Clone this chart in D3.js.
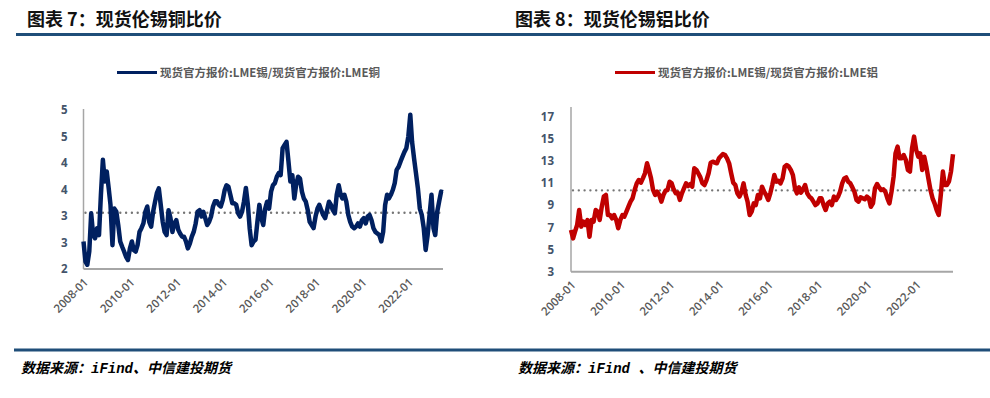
<!DOCTYPE html>
<html>
<head>
<meta charset="utf-8">
<script src="https://cdn.jsdelivr.net/npm/d3@7"></script>
<style>
  body { margin: 0; background: #fff; }
  svg { display: block; }
  .title { font-family: "Noto Sans CJK SC", sans-serif; font-weight: 700; font-size: 18px; fill: #111; }
  .legend { font-family: "Noto Sans CJK SC", sans-serif; font-weight: 700; font-size: 11.5px; fill: #595959; }
  .source { font-family: "Liberation Mono", "Noto Sans CJK SC", monospace; font-style: italic; font-weight: 700; font-size: 14px; fill: #000; }
  .y-axis text { font-family: "Open Sans", sans-serif; font-weight: 700; font-size: 11.5px; fill: #44546A; }
  .x-axis text { font-family: "Open Sans", sans-serif; font-weight: 600; font-size: 11.5px; fill: #595959; }
</style>
</head>
<body>
<div id="chart"></div>
<script>
// monthly series, 2008-01 .. 2023-07
var startMonth = new Date(2008, 0, 1);

var tinCopper = [
  2.52, 2.14, 2.08, 2.33, 3.05, 2.64, 2.58, 2.77, 2.64, 3.40, 4.06, 3.65,
  3.84, 3.52, 3.21, 2.45, 3.14, 3.08, 2.83, 2.52, 2.42, 2.33, 2.23, 2.17,
  2.39, 2.52, 2.36, 2.33, 2.45, 2.70, 2.77, 2.86, 3.08, 3.18, 2.89, 2.80,
  3.08, 3.27, 3.43, 3.52, 3.21, 2.89, 2.70, 2.64, 3.11, 2.96, 2.70, 2.86,
  2.92, 2.74, 2.67, 2.61, 2.61, 2.52, 2.39, 2.48, 2.61, 2.70, 2.86, 3.08,
  3.11, 2.99, 3.08, 2.96, 2.83, 2.89, 2.99, 3.18, 3.28, 3.28, 3.21, 3.18,
  3.30, 3.49, 3.58, 3.55, 3.40, 3.24, 3.24, 3.21, 3.05, 2.99, 3.08, 3.27,
  3.53, 3.21, 2.77, 2.45, 2.52, 2.55, 2.89, 3.21, 2.96, 2.83, 3.14, 3.27,
  3.14, 3.46, 3.58, 3.62, 3.74, 3.81, 3.77, 4.28, 4.34, 4.40, 4.03, 3.65,
  3.77, 3.33, 3.58, 3.74, 3.71, 3.46, 3.33, 3.27, 3.11, 2.89, 2.83, 2.77,
  2.99, 3.14, 3.21, 3.11, 3.02, 2.96, 3.11, 3.27, 3.21, 3.11, 3.05, 3.40,
  3.58, 3.40, 3.33, 3.40, 3.27, 3.02, 2.89, 2.80, 2.77, 2.80, 2.86, 2.80,
  2.92, 2.96, 2.86, 2.99, 3.02, 2.92, 2.77, 2.70, 2.67, 2.64, 2.52, 2.70,
  3.21, 3.40, 3.33, 3.40, 3.49, 3.62, 3.87, 3.93, 4.03, 4.12, 4.21, 4.28,
  4.50, 4.91, 4.40, 4.09, 3.81, 3.52, 3.14, 3.02, 2.77, 2.36, 2.64, 3.02,
  3.40, 2.77, 2.64, 3.08, 3.27, 3.46, 3.45
];

var tinAluminium = [
  6.77, 6.01, 6.61, 7.22, 8.57, 7.07, 7.52, 7.22, 7.67, 6.16, 7.67, 7.52,
  8.57, 8.42, 7.67, 8.87, 9.78, 9.93, 8.12, 8.12, 7.82, 8.12, 7.67, 6.92,
  7.67, 8.12, 7.97, 8.42, 8.87, 9.33, 9.63, 10.38, 10.98, 11.28, 11.04, 11.43,
  11.89, 12.79, 12.19, 11.43, 10.38, 9.93, 10.23, 9.93, 9.33, 9.93, 10.32, 10.38,
  11.13, 10.98, 10.44, 10.08, 10.14, 9.48, 10.08, 10.53, 10.98, 10.74, 10.92, 10.68,
  12.34, 12.19, 11.89, 11.52, 10.98, 10.83, 11.28, 11.89, 12.85, 12.94, 12.85, 12.79,
  13.24, 13.45, 13.63, 13.54, 13.24, 12.79, 11.89, 11.04, 10.83, 10.08, 9.78, 10.20,
  10.98, 9.93, 9.33, 8.12, 8.42, 9.17, 9.02, 9.93, 9.63, 10.68, 10.23, 9.93,
  9.48, 10.08, 10.83, 11.73, 11.13, 11.22, 10.98, 11.43, 12.49, 12.64, 12.49, 12.19,
  11.73, 10.53, 10.08, 10.62, 10.14, 10.44, 10.83, 10.08, 9.78, 9.63, 9.33, 9.02,
  9.17, 9.63, 9.63, 9.02, 8.57, 9.17, 9.33, 9.02, 9.78, 9.48, 9.78, 10.23,
  10.98, 11.43, 11.52, 11.13, 10.98, 10.62, 10.23, 9.48, 9.33, 9.72, 9.63, 9.54,
  9.78, 9.63, 8.87, 9.17, 10.53, 10.92, 10.62, 10.38, 10.44, 10.23, 9.63, 9.17,
  10.23, 11.58, 13.69, 14.30, 13.24, 13.24, 13.54, 13.09, 12.19, 12.04, 14.14, 15.20,
  14.00, 13.39, 13.69, 12.19, 13.39, 12.49, 11.43, 10.38, 9.63, 9.17, 8.57, 8.12,
  9.93, 12.04, 10.83, 10.83, 11.13, 12.04, 13.60
];

// long-run averages (dotted lines)
var tinCopperMean = 3.06;
var tinAluminiumMean = 10.35;

var tinCopperTicks = [2, 2.5, 3, 3.5, 4, 4.5, 5];
var tinAluminiumTicks = [3, 5, 7, 9, 11, 13, 15, 17];

var svg = d3.select("#chart").append("svg")
    .attr("width", 990)
    .attr("height", 398);

// page rules
svg.append("line")
    .attr("x1", 16).attr("x2", 990)
    .attr("y1", 34.5).attr("y2", 34.5)
    .attr("stroke", "#1f4e79").attr("stroke-width", 3);

svg.append("line")
    .attr("x1", 14).attr("x2", 990)
    .attr("y1", 350).attr("y2", 350)
    .attr("stroke", "#1f4e79").attr("stroke-width", 3);

RatioLine = function(_svg, _opts){
    this.svg = _svg;
    this.opts = _opts;
    this.initVis();
};

RatioLine.prototype.initVis = function() {
    var vis = this;
    var o = vis.opts;

    vis.data = o.values.map(function(v, i) {
        return {date: d3.timeMonth.offset(startMonth, i), value: v};
    });

    vis.svg.append("text")
        .attr("class", "title")
        .attr("x", o.titleX).attr("y", 26)
        .text(o.title);

    vis.svg.append("text")
        .attr("class", "source")
        .attr("x", o.sourceX).attr("y", 373)
        .text(o.source);

    // legend
    vis.svg.append("line")
        .attr("x1", o.legendX).attr("x2", o.legendX + 40)
        .attr("y1", 72.5).attr("y2", 72.5)
        .attr("stroke", o.color).attr("stroke-width", 3);

    vis.svg.append("text")
        .attr("class", "legend")
        .attr("x", o.legendX + 43).attr("y", 77)
        .text(o.legend);

    vis.xScale = d3.scaleTime()
        .range([o.left, o.right])
        .domain(d3.extent(vis.data, function(d) { return d.date; }));

    vis.yScale = d3.scaleLinear()
        .range([o.bottom, o.top])
        .domain(d3.extent(o.ticks));

    // axes
    var yAxis = d3.axisLeft(vis.yScale)
        .tickValues(o.ticks)
        .tickSize(0)
        .tickPadding(o.tickPad)
        .tickFormat(d3.format(".0f"));

    var yG = vis.svg.append("g")
        .attr("class", "y-axis")
        .attr("transform", "translate(" + o.left + ",0)")
        .call(yAxis);
    yG.select(".domain").remove();

    vis.svg.append("line")
        .attr("x1", o.left).attr("x2", o.left)
        .attr("y1", o.axisTop).attr("y2", o.bottom)
        .attr("stroke", "#a6a6a6").attr("stroke-width", 1.5);

    var xAxis = d3.axisBottom(vis.xScale)
        .ticks(d3.timeYear.every(2))
        .tickSize(0)
        .tickFormat(d3.timeFormat("%Y-%m"));

    var xG = vis.svg.append("g")
        .attr("class", "x-axis")
        .attr("transform", "translate(0," + o.bottom + ")")
        .call(xAxis);
    xG.select(".domain").remove();
    xG.selectAll("text")
        .attr("text-anchor", "end")
        .attr("dy", null)
        .attr("y", 0)
        .attr("transform", "translate(5,14) rotate(-45)");

    vis.svg.append("line")
        .attr("x1", o.left).attr("x2", o.right)
        .attr("y1", o.bottom).attr("y2", o.bottom)
        .attr("stroke", "#a6a6a6").attr("stroke-width", 2);

    // mean line
    vis.svg.append("line")
        .attr("x1", o.left + 2).attr("x2", o.right)
        .attr("y1", vis.yScale(o.mean)).attr("y2", vis.yScale(o.mean))
        .attr("stroke", "#757575")
        .attr("stroke-width", 2.4)
        .attr("stroke-linecap", "round")
        .attr("stroke-dasharray", "0,5.8");

    vis.line = d3.line()
        .x(function(d) { return vis.xScale(d.date); })
        .y(function(d) { return vis.yScale(d.value); })
        .curve(d3.curveLinear);

    vis.svg.append("path")
        .datum(vis.data)
        .attr("fill", "none")
        .attr("stroke", o.color)
        .attr("stroke-width", 4.5)
        .attr("stroke-linejoin", "round")
        .attr("d", vis.line);
};

new RatioLine(svg, {
    title: "图表 7：现货伦锡铜比价",
    titleX: 27,
    source: "数据来源：iFind、中信建投期货",
    sourceX: 21,
    legend: "现货官方报价:LME锡/现货官方报价:LME铜",
    legendX: 117,
    color: "#002060",
    values: tinCopper,
    ticks: tinCopperTicks,
    mean: tinCopperMean,
    left: 83.5, right: 443, top: 110, bottom: 269, axisTop: 109,
    tickPad: 16
});

new RatioLine(svg, {
    title: "图表 8：现货伦锡铝比价",
    titleX: 515,
    source: "数据来源：iFind 、中信建投期货",
    sourceX: 518,
    legend: "现货官方报价:LME锡/现货官方报价:LME铝",
    legendX: 615,
    color: "#c00000",
    values: tinAluminium,
    ticks: tinAluminiumTicks,
    mean: tinAluminiumMean,
    left: 571, right: 953, top: 116.7, bottom: 271.7, axisTop: 107,
    tickPad: 17
});
</script>
</body>
</html>
